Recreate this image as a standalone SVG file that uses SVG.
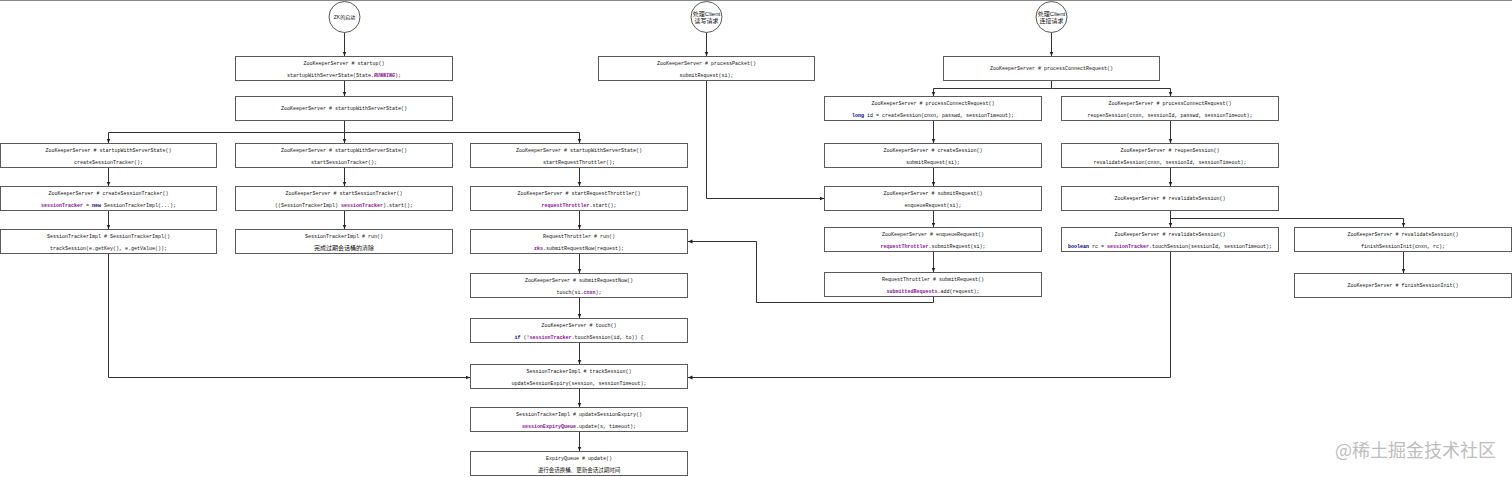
<svg xmlns="http://www.w3.org/2000/svg" width="1512" height="477" viewBox="0 0 1512 477">
<defs>
<marker id="arr" viewBox="0 0 8 8" refX="8" refY="4" markerWidth="4.5" markerHeight="4.5" markerUnits="userSpaceOnUse" orient="auto"><path d="M0,0.5 L8,4 L0,7.5 z" fill="#222"/></marker>
</defs>
<style>
.bx{fill:#fff;stroke:#5a5a5a;stroke-width:1}
.ci{fill:#fff;stroke:#5a5a5a;stroke-width:1}
.t{font-family:"Liberation Mono","DejaVu Sans Mono",monospace;font-size:5px;fill:#111;text-anchor:middle}
.cn{font-family:"Noto Sans CJK SC","Noto Sans",sans-serif;font-size:6px;fill:#111;text-anchor:middle}
.cc{font-family:"Liberation Sans","Noto Sans CJK SC",sans-serif;font-size:6px;fill:#111;text-anchor:middle}
.f{fill:#871094;font-weight:bold}
.fi{fill:#871094;font-weight:bold;font-style:italic}
.k{fill:#000080;font-weight:bold}
.ln{fill:none;stroke:#333;stroke-width:1}
.wm{font-family:"Noto Sans CJK SC","Noto Sans",sans-serif;font-size:18px;fill:#bdbdbd}
</style>
<rect x="0" y="0" width="1512" height="477" fill="#fff"/>
<line x1="0" y1="0.5" x2="1512" y2="0.5" stroke="#8a8a8a" stroke-width="1"/>

<g id="connectors">
<path class="ln" marker-end="url(#arr)" d="M344.5,32 V56"/>
<path class="ln" marker-end="url(#arr)" d="M344.5,81 V96"/>
<path class="ln" marker-end="url(#arr)" d="M344.5,121 V132.5 H108.5 V143"/>
<path class="ln" marker-end="url(#arr)" d="M344.5,132.5 V143"/>
<path class="ln" marker-end="url(#arr)" d="M344.5,132.5 H579.5 V143"/>
<path class="ln" marker-end="url(#arr)" d="M108.5,167 V186"/>
<path class="ln" marker-end="url(#arr)" d="M108.5,210 V229"/>
<path class="ln" marker-end="url(#arr)" d="M108.5,254 V377.5 H470"/>
<path class="ln" marker-end="url(#arr)" d="M344.5,167 V186"/>
<path class="ln" marker-end="url(#arr)" d="M344.5,210 V229"/>
<path class="ln" marker-end="url(#arr)" d="M579.5,167 V186"/>
<path class="ln" marker-end="url(#arr)" d="M579.5,210 V229"/>
<path class="ln" marker-end="url(#arr)" d="M579.5,254 V273"/>
<path class="ln" marker-end="url(#arr)" d="M579.5,297 V318"/>
<path class="ln" marker-end="url(#arr)" d="M579.5,343 V364"/>
<path class="ln" marker-end="url(#arr)" d="M579.5,389 V407"/>
<path class="ln" marker-end="url(#arr)" d="M579.5,432 V451"/>
<path class="ln" marker-end="url(#arr)" d="M706.5,32 V56"/>
<path class="ln" marker-end="url(#arr)" d="M706.5,81 V198.5 H824"/>
<path class="ln" marker-end="url(#arr)" d="M933.5,297 V302.5 H756.5 V241.5 H688"/>
<path class="ln" marker-end="url(#arr)" d="M1051.5,32 V56"/>
<path class="ln" marker-end="url(#arr)" d="M1051.5,81 V88.5 H933.5 V96"/>
<path class="ln" marker-end="url(#arr)" d="M1051.5,88.5 H1170.5 V96"/>
<path class="ln" marker-end="url(#arr)" d="M933.5,121 V143"/>
<path class="ln" marker-end="url(#arr)" d="M933.5,167 V186"/>
<path class="ln" marker-end="url(#arr)" d="M933.5,210 V227"/>
<path class="ln" marker-end="url(#arr)" d="M933.5,251 V272"/>
<path class="ln" marker-end="url(#arr)" d="M1170.5,121 V143"/>
<path class="ln" marker-end="url(#arr)" d="M1170.5,167 V186"/>
<path class="ln" marker-end="url(#arr)" d="M1170.5,210 V227"/>
<path class="ln" marker-end="url(#arr)" d="M1170.5,218.5 H1403.5 V227"/>
<path class="ln" marker-end="url(#arr)" d="M1403.5,251 V273"/>
<path class="ln" marker-end="url(#arr)" d="M1170.5,251 V377.5 H688"/>
</g>

<g id="start-zk">
<circle class="ci" cx="344.5" cy="17" r="15.5"/>
<text class="cc" x="344.5" y="18.8" style="font-size:5px">ZK的启动</text>
</g>
<g id="start-rw">
<circle class="ci" cx="706.5" cy="17" r="15.5"/>
<text class="cc" x="706.5" y="16.3">处理Client</text>
<text class="cc" x="706.5" y="22.5">读写请求</text>
</g>
<g id="start-conn">
<circle class="ci" cx="1051.5" cy="17" r="15.5"/>
<text class="cc" x="1051.5" y="16.3">处理Client</text>
<text class="cc" x="1051.5" y="22.5">连接请求</text>
</g>

<g id="b0">
<rect class="bx" x="235.5" y="56.5" width="217" height="24"/>
<text class="t" x="344" y="65">ZooKeeperServer # startup()</text>
<text class="t" x="344" y="77">startupWithServerState(State.<tspan class="fi">RUNNING</tspan>);</text>
</g>
<g id="b00">
<rect class="bx" x="235.5" y="96.5" width="217" height="24"/>
<text class="t" x="344" y="110.3">ZooKeeperServer # startupWithServerState()</text>
</g>

<g id="a1">
<rect class="bx" x="0.5" y="143.5" width="216" height="24"/>
<text class="t" x="108.5" y="152">ZooKeeperServer # startupWithServerState()</text>
<text class="t" x="108.5" y="164">createSessionTracker();</text>
</g>
<g id="a2">
<rect class="bx" x="0.5" y="186.5" width="216" height="24"/>
<text class="t" x="108.5" y="195">ZooKeeperServer # createSessionTracker()</text>
<text class="t" x="108.5" y="207"><tspan class="f">sessionTracker</tspan> = <tspan class="k">new</tspan> SessionTrackerImpl(...);</text>
</g>
<g id="a3">
<rect class="bx" x="0.5" y="229.5" width="216" height="24"/>
<text class="t" x="108.5" y="238">SessionTrackerImpl # SessionTrackerImpl()</text>
<text class="t" x="108.5" y="250">trackSession(e.getKey(), e.getValue());</text>
</g>

<g id="b1">
<rect class="bx" x="235.5" y="143.5" width="217" height="24"/>
<text class="t" x="344" y="152">ZooKeeperServer # startupWithServerState()</text>
<text class="t" x="344" y="164">startSessionTracker();</text>
</g>
<g id="b2">
<rect class="bx" x="235.5" y="186.5" width="217" height="24"/>
<text class="t" x="344" y="195">ZooKeeperServer # startSessionTracker()</text>
<text class="t" x="344" y="207">((SessionTrackerImpl) <tspan class="f">sessionTracker</tspan>).start();</text>
</g>
<g id="b3">
<rect class="bx" x="235.5" y="229.5" width="217" height="24"/>
<text class="t" x="344" y="238">SessionTrackerImpl # run()</text>
<text class="cn" x="344" y="250.3">完成过期会话桶的清除</text>
</g>

<g id="c1">
<rect class="bx" x="470.5" y="143.5" width="217" height="24"/>
<text class="t" x="579" y="152">ZooKeeperServer # startupWithServerState()</text>
<text class="t" x="579" y="164">startRequestThrottler();</text>
</g>
<g id="c2">
<rect class="bx" x="470.5" y="186.5" width="217" height="24"/>
<text class="t" x="579" y="195">ZooKeeperServer # startRequestThrottler()</text>
<text class="t" x="579" y="207"><tspan class="f">requestThrottler</tspan>.start();</text>
</g>
<g id="c3">
<rect class="bx" x="470.5" y="229.5" width="217" height="24"/>
<text class="t" x="579" y="238">RequestThrottler # run()</text>
<text class="t" x="579" y="250"><tspan class="f">zks</tspan>.submitRequestNow(request);</text>
</g>
<g id="c4">
<rect class="bx" x="470.5" y="273.5" width="217" height="24"/>
<text class="t" x="579" y="282">ZooKeeperServer # submitRequestNow()</text>
<text class="t" x="579" y="294">touch(si.<tspan class="f">cnxn</tspan>);</text>
</g>
<g id="c5">
<rect class="bx" x="470.5" y="318.5" width="217" height="24"/>
<text class="t" x="579" y="327">ZooKeeperServer # touch()</text>
<text class="t" x="579" y="339"><tspan class="k">if</tspan> (!<tspan class="f">sessionTracker</tspan>.touchSession(id, to)) {</text>
</g>
<g id="c6">
<rect class="bx" x="470.5" y="364.5" width="217" height="24"/>
<text class="t" x="579" y="373">SessionTrackerImpl # trackSession()</text>
<text class="t" x="579" y="385">updateSessionExpiry(session, sessionTimeout);</text>
</g>
<g id="c7">
<rect class="bx" x="470.5" y="407.5" width="217" height="24"/>
<text class="t" x="579" y="416">SessionTrackerImpl # updateSessionExpiry()</text>
<text class="t" x="579" y="428"><tspan class="f">sessionExpiryQueue</tspan>.update(s, timeout);</text>
</g>
<g id="c8">
<rect class="bx" x="470.5" y="451.5" width="217" height="24"/>
<text class="t" x="579" y="460">ExpiryQueue # update()</text>
<text class="cn" x="579" y="472" style="font-size:5.5px">进行会话换桶、更新会话过期时间</text>
</g>

<g id="p1">
<rect class="bx" x="598.5" y="56.5" width="216" height="24"/>
<text class="t" x="706.5" y="65">ZooKeeperServer # processPacket()</text>
<text class="t" x="706.5" y="77">submitRequest(si);</text>
</g>

<g id="t1">
<rect class="bx" x="943.5" y="56.5" width="216" height="24"/>
<text class="t" x="1051.5" y="70.3">ZooKeeperServer # processConnectRequest()</text>
</g>

<g id="d1">
<rect class="bx" x="824.5" y="96.5" width="217" height="24"/>
<text class="t" x="933" y="105">ZooKeeperServer # processConnectRequest()</text>
<text class="t" x="933" y="117"><tspan class="k">long</tspan> id = createSession(cnxn, passwd, sessionTimeout);</text>
</g>
<g id="d2">
<rect class="bx" x="824.5" y="143.5" width="217" height="24"/>
<text class="t" x="933" y="152">ZooKeeperServer # createSession()</text>
<text class="t" x="933" y="164">submitRequest(si);</text>
</g>
<g id="d3">
<rect class="bx" x="824.5" y="186.5" width="217" height="24"/>
<text class="t" x="933" y="195">ZooKeeperServer # submitRequest()</text>
<text class="t" x="933" y="207">enqueueRequest(si);</text>
</g>
<g id="d4">
<rect class="bx" x="824.5" y="227.5" width="217" height="24"/>
<text class="t" x="933" y="236">ZooKeeperServer # enqueueRequest()</text>
<text class="t" x="933" y="248"><tspan class="f">requestThrottler</tspan>.submitRequest(si);</text>
</g>
<g id="d5">
<rect class="bx" x="824.5" y="272.5" width="217" height="24"/>
<text class="t" x="933" y="281">RequestThrottler # submitRequest()</text>
<text class="t" x="933" y="293"><tspan class="f">submittedRequests</tspan>.add(request);</text>
</g>

<g id="e1">
<rect class="bx" x="1061.5" y="96.5" width="217" height="24"/>
<text class="t" x="1170" y="105">ZooKeeperServer # processConnectRequest()</text>
<text class="t" x="1170" y="117">reopenSession(cnxn, sessionId, passwd, sessionTimeout);</text>
</g>
<g id="e2">
<rect class="bx" x="1061.5" y="143.5" width="217" height="24"/>
<text class="t" x="1170" y="152">ZooKeeperServer # reopenSession()</text>
<text class="t" x="1170" y="164">revalidateSession(cnxn, sessionId, sessionTimeout);</text>
</g>
<g id="e3">
<rect class="bx" x="1061.5" y="186.5" width="217" height="24"/>
<text class="t" x="1170" y="200.3">ZooKeeperServer # revalidateSession()</text>
</g>
<g id="e4">
<rect class="bx" x="1061.5" y="227.5" width="217" height="24"/>
<text class="t" x="1170" y="236">ZooKeeperServer # revalidateSession()</text>
<text class="t" x="1170" y="248"><tspan class="k">boolean</tspan> rc = <tspan class="f">sessionTracker</tspan>.touchSession(sessionId, sessionTimeout);</text>
</g>

<g id="f1">
<rect class="bx" x="1294.5" y="227.5" width="217" height="24"/>
<text class="t" x="1403" y="236">ZooKeeperServer # revalidateSession()</text>
<text class="t" x="1403" y="248">finishSessionInit(cnxn, rc);</text>
</g>
<g id="f2">
<rect class="bx" x="1294.5" y="273.5" width="217" height="24"/>
<text class="t" x="1403" y="287.3">ZooKeeperServer # finishSessionInit()</text>
</g>

<text class="wm" x="1335" y="457">@稀土掘金技术社区</text>
</svg>
